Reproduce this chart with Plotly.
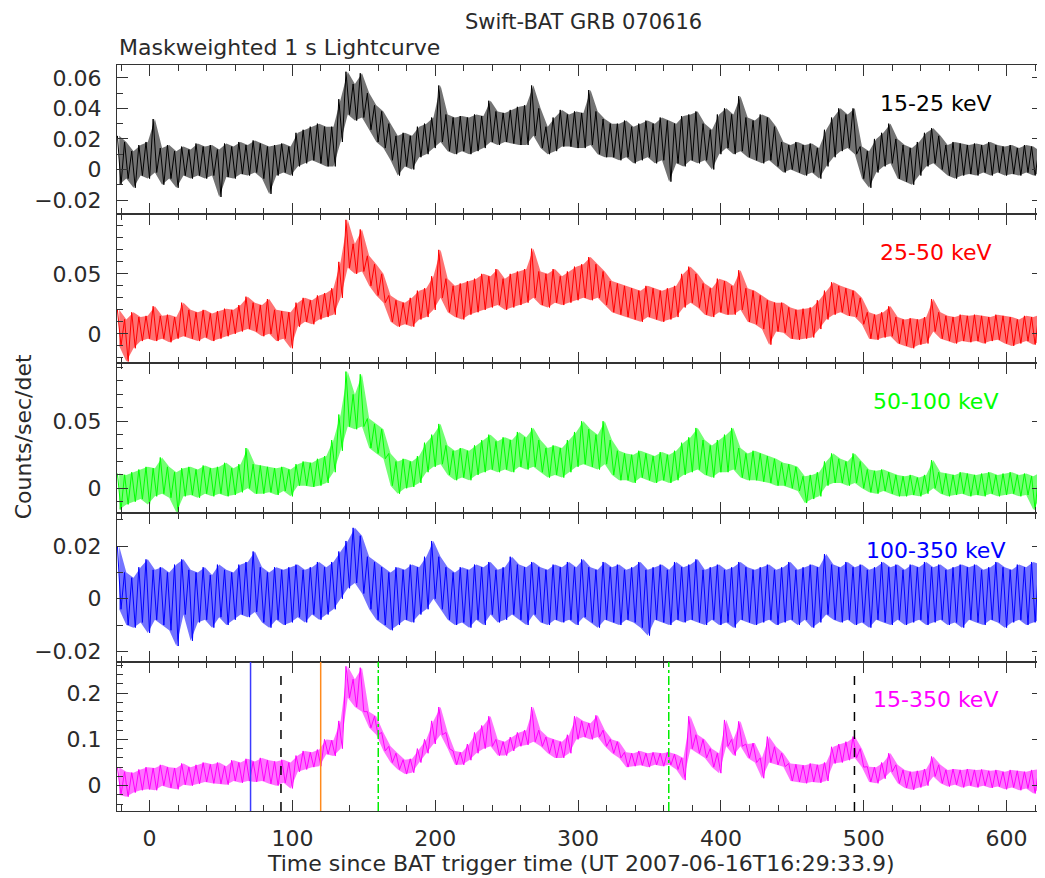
import plotly.graph_objects as go
from plotly.subplots import make_subplots

# ---------------- data ----------------
# 5-s time bins (s since BAT trigger); for each bin the upper and lower
# excursion of the 1-s light curve is listed (hi first, then lo).
bin_starts = [-22.5 + 5 * i for i in range(130)]
half_bin = 2.5

bands = ["15-25 keV", "25-50 keV", "50-100 keV", "100-350 keV", "15-350 keV"]
colors = ["#000000", "#ff0000", "#00ff00", "#0000ff", "#ff00ff"]
fills = ["rgba(0,0,0,0.55)", "rgba(255,0,0,0.55)", "rgba(0,255,0,0.55)",
         "rgba(0,0,255,0.55)", "rgba(255,0,255,0.55)"]

p1_hi = [0.022, 0.018, 0.012, 0.016, 0.018, 0.033, 0.014, 0.016, 0.012, 0.015,
         0.013, 0.017, 0.015, 0.016, 0.013, 0.017, 0.015, 0.018, 0.016, 0.019,
         0.017, 0.015, 0.016, 0.017, 0.015, 0.024, 0.026, 0.028, 0.030, 0.028,
         0.028, 0.046, 0.064, 0.056, 0.063, 0.050, 0.042, 0.038, 0.030, 0.022,
         0.024, 0.022, 0.028, 0.030, 0.034, 0.055, 0.036, 0.034, 0.035, 0.034,
         0.036, 0.035, 0.045, 0.038, 0.037, 0.039, 0.041, 0.042, 0.055, 0.040,
         0.028, 0.034, 0.039, 0.036, 0.038, 0.037, 0.052, 0.038, 0.033, 0.030,
         0.030, 0.032, 0.028, 0.030, 0.032, 0.030, 0.034, 0.032, 0.030, 0.035,
         0.036, 0.038, 0.030, 0.026, 0.036, 0.040, 0.036, 0.048, 0.034, 0.032,
         0.036, 0.034, 0.028, 0.018, 0.016, 0.018, 0.016, 0.017, 0.014, 0.026,
         0.034, 0.040, 0.036, 0.040, 0.015, 0.012, 0.020, 0.024, 0.030, 0.020,
         0.016, 0.014, 0.018, 0.024, 0.027, 0.022, 0.016, 0.018, 0.017, 0.016,
         0.017, 0.016, 0.018, 0.016, 0.015, 0.016, 0.014, 0.016, 0.015, 0.012]
p1_lo = [-0.010, -0.006, -0.012, -0.004, -0.006, -0.002, -0.010, -0.006, -0.012, -0.004,
         -0.006, -0.004, -0.006, -0.004, -0.018, -0.005, -0.006, -0.003, -0.004, -0.002,
         -0.006, -0.016, -0.004, -0.002, -0.004, 0.002, 0.004, 0.006, 0.004, 0.002,
         0.002, 0.018, 0.036, 0.032, 0.034, 0.026, 0.018, 0.014, 0.006, -0.004,
         0.002, 0.000, 0.008, 0.010, 0.014, 0.018, 0.012, 0.010, 0.012, 0.010,
         0.012, 0.014, 0.018, 0.016, 0.018, 0.017, 0.016, 0.016, 0.022, 0.014,
         0.010, 0.012, 0.015, 0.015, 0.014, 0.014, 0.016, 0.010, 0.008, 0.008,
         0.006, 0.008, 0.004, 0.006, 0.008, 0.004, 0.006, -0.008, 0.004, 0.002,
         0.006, 0.004, 0.006, 0.000, 0.010, 0.014, 0.010, 0.012, 0.008, 0.006,
         0.004, 0.006, 0.002, -0.002, 0.000, -0.002, -0.004, -0.002, -0.006, 0.002,
         0.008, 0.012, 0.014, 0.010, -0.006, -0.012, -0.002, 0.002, 0.004, -0.006,
         -0.008, -0.010, -0.004, 0.002, 0.004, 0.000, -0.004, -0.006, -0.004, -0.003,
         -0.004, -0.002, -0.004, -0.002, -0.004, -0.003, -0.004, -0.002, -0.004, -0.002]

p2_hi = [0.020, 0.012, 0.018, 0.014, 0.015, 0.023, 0.015, 0.016, 0.014, 0.026,
         0.020, 0.018, 0.020, 0.017, 0.019, 0.021, 0.020, 0.024, 0.031, 0.026,
         0.024, 0.029, 0.020, 0.019, 0.018, 0.026, 0.030, 0.028, 0.032, 0.034,
         0.038, 0.060, 0.095, 0.075, 0.087, 0.065, 0.058, 0.050, 0.032, 0.028,
         0.026, 0.030, 0.036, 0.038, 0.048, 0.070, 0.046, 0.040, 0.042, 0.044,
         0.046, 0.050, 0.048, 0.054, 0.046, 0.050, 0.052, 0.054, 0.071, 0.052,
         0.050, 0.054, 0.048, 0.052, 0.056, 0.058, 0.064, 0.058, 0.052, 0.044,
         0.042, 0.040, 0.038, 0.036, 0.040, 0.038, 0.036, 0.038, 0.040, 0.050,
         0.056, 0.050, 0.042, 0.038, 0.046, 0.044, 0.040, 0.053, 0.038, 0.036,
         0.032, 0.028, 0.026, 0.026, 0.022, 0.020, 0.021, 0.022, 0.028, 0.036,
         0.043, 0.040, 0.038, 0.036, 0.030, 0.018, 0.016, 0.018, 0.023, 0.014,
         0.012, 0.013, 0.012, 0.014, 0.029, 0.018, 0.015, 0.014, 0.016, 0.015,
         0.016, 0.015, 0.014, 0.016, 0.015, 0.014, 0.012, 0.015, 0.014, 0.016]
p2_lo = [-0.010, -0.023, -0.012, -0.006, -0.004, -0.006, -0.004, -0.007, -0.004, -0.002,
         -0.004, -0.006, -0.003, -0.006, -0.004, -0.002, 0.000, 0.002, 0.004, 0.002,
         -0.002, 0.000, -0.006, -0.004, -0.012, 0.006, 0.010, 0.008, 0.012, 0.014,
         0.016, 0.030, 0.055, 0.050, 0.052, 0.040, 0.032, 0.026, 0.010, 0.006,
         0.008, 0.006, 0.012, 0.014, 0.020, 0.030, 0.018, 0.014, 0.012, 0.016,
         0.018, 0.020, 0.022, 0.024, 0.020, 0.022, 0.024, 0.026, 0.030, 0.024,
         0.022, 0.026, 0.024, 0.026, 0.028, 0.030, 0.028, 0.030, 0.024, 0.018,
         0.016, 0.014, 0.012, 0.010, 0.014, 0.012, 0.010, 0.012, 0.014, 0.022,
         0.026, 0.022, 0.016, 0.014, 0.018, 0.016, 0.016, 0.020, 0.010, 0.008,
         0.004, -0.009, 0.002, 0.001, -0.004, -0.005, -0.004, -0.003, 0.004, 0.012,
         0.016, 0.018, 0.015, 0.014, 0.008, -0.004, -0.005, -0.003, -0.002, -0.008,
         -0.010, -0.012, -0.009, -0.008, 0.002, -0.004, -0.006, -0.008, -0.006, -0.007,
         -0.006, -0.008, -0.006, -0.005, -0.008, -0.010, -0.008, -0.006, -0.009, -0.006]

p3_hi = [0.011, 0.010, 0.012, 0.014, 0.016, 0.015, 0.023, 0.016, 0.012, 0.015,
         0.016, 0.014, 0.017, 0.015, 0.016, 0.019, 0.015, 0.018, 0.030, 0.018,
         0.017, 0.016, 0.015, 0.016, 0.014, 0.018, 0.020, 0.019, 0.022, 0.024,
         0.036, 0.055, 0.087, 0.070, 0.085, 0.052, 0.048, 0.044, 0.026, 0.020,
         0.022, 0.020, 0.024, 0.034, 0.040, 0.048, 0.032, 0.028, 0.030, 0.028,
         0.032, 0.036, 0.040, 0.035, 0.038, 0.036, 0.042, 0.038, 0.045, 0.036,
         0.030, 0.032, 0.030, 0.036, 0.042, 0.050, 0.044, 0.040, 0.050, 0.036,
         0.028, 0.026, 0.025, 0.028, 0.026, 0.024, 0.027, 0.025, 0.028, 0.034,
         0.038, 0.045, 0.036, 0.032, 0.036, 0.040, 0.045, 0.030, 0.026, 0.028,
         0.026, 0.024, 0.022, 0.019, 0.018, 0.016, 0.009, 0.010, 0.012, 0.020,
         0.026, 0.022, 0.020, 0.026, 0.020, 0.014, 0.013, 0.014, 0.012, 0.010,
         0.009, 0.010, 0.008, 0.010, 0.021, 0.012, 0.011, 0.010, 0.012, 0.011,
         0.010, 0.011, 0.012, 0.010, 0.011, 0.012, 0.010, 0.011, 0.009, 0.012]
p3_lo = [-0.016, -0.012, -0.010, -0.008, -0.012, -0.006, -0.004, -0.007, -0.018, -0.006,
         -0.005, -0.007, -0.004, -0.006, -0.004, -0.006, -0.005, -0.003, 0.000, -0.004,
         -0.004, -0.003, -0.005, -0.002, -0.006, 0.002, 0.002, 0.001, 0.002, 0.004,
         0.012, 0.028, 0.046, 0.044, 0.046, 0.030, 0.026, 0.022, 0.002, -0.004,
         0.000, 0.001, 0.004, 0.012, 0.016, 0.018, 0.010, 0.006, 0.008, 0.006,
         0.010, 0.012, 0.014, 0.012, 0.014, 0.012, 0.016, 0.014, 0.016, 0.012,
         0.008, 0.010, 0.008, 0.012, 0.016, 0.018, 0.016, 0.014, 0.018, 0.010,
         0.006, 0.006, 0.004, 0.008, 0.006, 0.004, 0.006, 0.004, 0.006, 0.010,
         0.012, 0.014, 0.010, 0.008, 0.012, 0.012, 0.014, 0.008, 0.006, 0.006,
         0.005, 0.004, 0.002, 0.002, 0.000, -0.002, -0.011, -0.008, -0.006, 0.002,
         0.004, 0.004, 0.002, 0.004, 0.000, -0.003, -0.004, -0.002, -0.004, -0.006,
         -0.006, -0.005, -0.006, -0.004, 0.000, -0.004, -0.006, -0.005, -0.004, -0.006,
         -0.005, -0.006, -0.004, -0.006, -0.005, -0.004, -0.006, -0.005, -0.016, -0.006]

p4_hi = [0.020, 0.010, 0.008, 0.012, 0.015, 0.011, 0.012, 0.010, 0.013, 0.015,
         0.011, 0.010, 0.012, 0.009, 0.013, 0.011, 0.010, 0.013, 0.014, 0.018,
         0.012, 0.010, 0.012, 0.011, 0.012, 0.013, 0.011, 0.012, 0.014, 0.012,
         0.014, 0.018, 0.022, 0.027, 0.024, 0.016, 0.014, 0.012, 0.010, 0.012,
         0.011, 0.013, 0.012, 0.016, 0.022, 0.016, 0.012, 0.010, 0.012, 0.011,
         0.013, 0.012, 0.014, 0.011, 0.012, 0.016, 0.013, 0.012, 0.014, 0.012,
         0.011, 0.013, 0.012, 0.014, 0.012, 0.015, 0.012, 0.011, 0.014, 0.012,
         0.013, 0.011, 0.012, 0.014, 0.011, 0.012, 0.013, 0.011, 0.014, 0.012,
         0.013, 0.015, 0.011, 0.012, 0.013, 0.011, 0.012, 0.014, 0.012, 0.011,
         0.012, 0.013, 0.011, 0.012, 0.014, 0.011, 0.012, 0.013, 0.012, 0.017,
         0.013, 0.012, 0.014, 0.012, 0.013, 0.011, 0.012, 0.014, 0.012, 0.013,
         0.011, 0.013, 0.012, 0.014, 0.012, 0.013, 0.011, 0.012, 0.013, 0.012,
         0.013, 0.011, 0.012, 0.014, 0.012, 0.011, 0.013, 0.012, 0.014, 0.013]
p4_lo = [-0.004, -0.010, -0.011, -0.009, -0.013, -0.008, -0.010, -0.012, -0.018, -0.006,
         -0.016, -0.009, -0.008, -0.011, -0.007, -0.010, -0.008, -0.006, -0.007, -0.005,
         -0.009, -0.011, -0.008, -0.010, -0.009, -0.007, -0.009, -0.006, -0.008, -0.006,
         -0.004, 0.000, 0.004, 0.006, 0.002, -0.004, -0.008, -0.010, -0.012, -0.010,
         -0.008, -0.009, -0.006, -0.004, 0.000, -0.004, -0.008, -0.010, -0.009, -0.011,
         -0.008, -0.010, -0.006, -0.009, -0.008, -0.006, -0.008, -0.010, -0.006, -0.009,
         -0.010, -0.008, -0.009, -0.008, -0.010, -0.007, -0.009, -0.011, -0.008, -0.009,
         -0.010, -0.008, -0.009, -0.011, -0.014, -0.008, -0.009, -0.010, -0.008, -0.009,
         -0.008, -0.009, -0.010, -0.008, -0.010, -0.009, -0.011, -0.008, -0.009, -0.010,
         -0.009, -0.008, -0.010, -0.009, -0.008, -0.010, -0.008, -0.011, -0.009, -0.006,
         -0.008, -0.009, -0.008, -0.010, -0.009, -0.011, -0.008, -0.009, -0.010, -0.008,
         -0.010, -0.009, -0.008, -0.010, -0.009, -0.008, -0.010, -0.009, -0.011, -0.008,
         -0.009, -0.010, -0.008, -0.009, -0.011, -0.009, -0.008, -0.010, -0.009, -0.008]

p5_hi = [0.040, 0.030, 0.028, 0.035, 0.040, 0.038, 0.045, 0.040, 0.038, 0.048,
         0.040, 0.045, 0.050, 0.046, 0.050, 0.042, 0.055, 0.050, 0.058, 0.052,
         0.060, 0.055, 0.052, 0.056, 0.050, 0.065, 0.075, 0.072, 0.078, 0.100,
         0.098, 0.140, 0.258, 0.230, 0.255, 0.160, 0.150, 0.115, 0.085, 0.070,
         0.056, 0.058, 0.080, 0.100, 0.140, 0.170, 0.115, 0.075, 0.072, 0.090,
         0.115, 0.130, 0.150, 0.100, 0.095, 0.105, 0.115, 0.120, 0.170, 0.120,
         0.105, 0.100, 0.095, 0.110, 0.150, 0.140, 0.135, 0.152, 0.120, 0.100,
         0.095, 0.072, 0.070, 0.075, 0.070, 0.072, 0.070, 0.072, 0.068, 0.060,
         0.150, 0.110, 0.100, 0.080, 0.070, 0.142, 0.100, 0.139, 0.090, 0.092,
         0.060, 0.106, 0.084, 0.070, 0.048, 0.046, 0.044, 0.048, 0.045, 0.050,
         0.084, 0.090, 0.095, 0.106, 0.080, 0.041, 0.040, 0.050, 0.070, 0.045,
         0.034, 0.030, 0.032, 0.036, 0.063, 0.045, 0.034, 0.036, 0.034, 0.036,
         0.034, 0.035, 0.032, 0.034, 0.030, 0.034, 0.032, 0.030, 0.034, 0.036]
p5_lo = [-0.020, -0.024, -0.015, -0.010, -0.008, -0.010, 0.000, -0.005, -0.008, 0.002,
         0.000, 0.004, 0.008, 0.005, 0.004, 0.002, 0.010, 0.006, 0.010, 0.008,
         0.010, 0.004, 0.000, 0.006, -0.006, 0.030, 0.035, 0.040, 0.042, 0.068,
         0.064, 0.080, 0.190, 0.170, 0.160, 0.125, 0.110, 0.075, 0.050, 0.035,
         0.025, 0.028, 0.050, 0.070, 0.090, 0.110, 0.080, 0.045, 0.045, 0.055,
         0.070, 0.080, 0.085, 0.065, 0.065, 0.075, 0.085, 0.088, 0.095, 0.085,
         0.070, 0.060, 0.060, 0.070, 0.100, 0.105, 0.100, 0.105, 0.085, 0.070,
         0.060, 0.040, 0.042, 0.044, 0.040, 0.045, 0.042, 0.045, 0.035, 0.012,
         0.080, 0.070, 0.060, 0.040, 0.027, 0.085, 0.065, 0.085, 0.060, 0.050,
         0.016, 0.050, 0.045, 0.041, 0.010, 0.008, 0.005, 0.008, 0.006, 0.010,
         0.048, 0.050, 0.055, 0.060, 0.040, 0.008, 0.005, 0.015, 0.030, 0.005,
         -0.005, -0.009, -0.004, 0.000, 0.020, 0.005, -0.002, 0.002, -0.004, 0.000,
         -0.004, 0.000, -0.005, -0.002, -0.008, -0.004, -0.010, -0.006, -0.017, -0.004]

his = [p1_hi, p2_hi, p3_hi, p4_hi, p5_hi]
los = [p1_lo, p2_lo, p3_lo, p4_lo, p5_lo]

# marker times in the 15-350 keV panel (s)
t_blue = 70.7
t_black_dashed = [92.0, 493.5]
t_orange = 119.8
t_green_dashdot = [160.1, 363.5]

x_range = [-22.8, 625.5]
y_ranges = [[-0.0293, 0.0684], [-0.0246, 0.0997], [-0.0181, 0.0931],
            [-0.024, 0.0328], [-0.0548, 0.2677]]
y_tickvals = [[-0.02, 0, 0.02, 0.04, 0.06], [0, 0.05], [0, 0.05],
              [-0.02, 0, 0.02], [0, 0.1, 0.2]]
y_minor = [0.01, 0.01, 0.01, 0.01, 0.02]

# ---------------- figure ----------------
FONT = "DejaVu Sans"
AX = "#333333"
TXT = "#2a2a2a"

fig = make_subplots(rows=5, cols=1, shared_xaxes=True, vertical_spacing=0)

for i in range(5):
    r = i + 1
    fig.add_hline(y=0, row=r, col=1, line_dash="dash",
                  line_color="black", line_width=1.5, layer="below")
    # envelope band (lo then hi, filled between)
    centers = [t + half_bin / 2 for t in bin_starts]
    fig.add_trace(go.Scatter(x=centers, y=los[i], mode="lines",
                             line=dict(width=0, color=colors[i]),
                             showlegend=False, hoverinfo="skip"), row=r, col=1)
    fig.add_trace(go.Scatter(x=centers, y=his[i], mode="lines",
                             line=dict(width=0, color=colors[i]),
                             fill="tonexty", fillcolor=fills[i],
                             showlegend=False, hoverinfo="skip"), row=r, col=1)
    # the light curve itself, alternating upper and lower excursions
    xs, ys = [], []
    for t, h, l in zip(bin_starts, his[i], los[i]):
        xs += [t, t + half_bin]
        ys += [h, l]
    fig.add_trace(go.Scatter(x=xs, y=ys, mode="lines",
                             line=dict(color=colors[i], width=1),
                             showlegend=False, hoverinfo="skip"),
                  row=r, col=1)
    fig.update_yaxes(row=r, col=1, range=y_ranges[i], automargin=False,
                     tickvals=y_tickvals[i], ticks="inside", ticklen=11,
                     tickwidth=1, tickcolor=AX,
                     minor=dict(dtick=y_minor[i], tick0=0, ticks="inside",
                                ticklen=6, tickwidth=1, tickcolor=AX),
                     showline=True, linecolor=AX, linewidth=1, mirror="ticks",
                     showgrid=False, zeroline=False,
                     tickfont=dict(family=FONT, size=22, color=TXT),
                     ticklabelstandoff=10)
    fig.add_annotation(text=bands[i], xref="paper", x=0.884,
                       yref=("y domain" if i == 0 else f"y{r} domain"),
                       y=0.745, showarrow=False, xanchor="center",
                       yanchor="middle",
                       font=dict(family=FONT, size=22, color=colors[i]))

fig.update_xaxes(range=x_range, dtick=100, tick0=0, ticks="inside",
                 automargin=False,
                 ticklen=11, tickwidth=1, tickcolor=AX,
                 minor=dict(dtick=20, tick0=0, ticks="inside", ticklen=6,
                            tickwidth=1, tickcolor=AX),
                 showline=True, linecolor=AX, linewidth=1, mirror="ticks",
                 showgrid=False, zeroline=False,
                 tickfont=dict(family=FONT, size=22, color=TXT),
                 ticklabelstandoff=8)

# vertical marker lines in bottom panel
yb, yt = y_ranges[4]
fig.add_shape(type="line", xref="x5", yref="y5", x0=t_blue, x1=t_blue,
              y0=yb, y1=yt, line=dict(color="#3b3bff", width=1.5))
fig.add_shape(type="line", xref="x5", yref="y5", x0=t_orange, x1=t_orange,
              y0=yb, y1=yt, line=dict(color="#ff8a1c", width=1.5))
for t in t_green_dashdot:
    fig.add_shape(type="line", xref="x5", yref="y5", x0=t, x1=t, y0=yb, y1=yt,
                  line=dict(color="#00ee00", width=1.5, dash="dashdot"))
for t in t_black_dashed:
    fig.add_shape(type="line", xref="x5", yref="y5", x0=t, x1=t, y0=yb, y1=0.247,
                  line=dict(color="black", width=1.5, dash="dash"))

# titles
fig.add_annotation(text="Swift-BAT GRB 070616", xref="paper", yref="paper",
                   x=0.504, y=1.0751, showarrow=False, xanchor="center",
                   yanchor="top", borderpad=0,
                   font=dict(family=FONT, size=21, color=TXT))
fig.add_annotation(text="Maskweighted 1 s Lightcurve", xref="paper", yref="paper",
                   x=0.0, y=1.024, showarrow=False, xanchor="left",
                   yanchor="middle", font=dict(family=FONT, size=22, color=TXT))
fig.add_annotation(text="Counts/sec/det", xref="paper", yref="paper",
                   x=-0.1015, y=0.501, showarrow=False, textangle=-90,
                   xanchor="center", yanchor="middle",
                   font=dict(family=FONT, size=22, color=TXT))
fig.add_annotation(text="Time since BAT trigger time (UT 2007-06-16T16:29:33.9)",
                   xref="paper", yref="paper", x=0.501, y=-0.071,
                   showarrow=False, xanchor="center", yanchor="middle",
                   font=dict(family=FONT, size=22, color=TXT))

# the page body adds an 8 px margin, so the figure is 8 px smaller and the
# plot margins are shifted to land the axes where the reference has them
fig.update_layout(width=1037, height=870,
                  margin=dict(l=109, r=2, t=57, b=67),
                  paper_bgcolor="white", plot_bgcolor="white",
                  font=dict(family=FONT, size=22, color=TXT))

fig.write_html("out.html")
